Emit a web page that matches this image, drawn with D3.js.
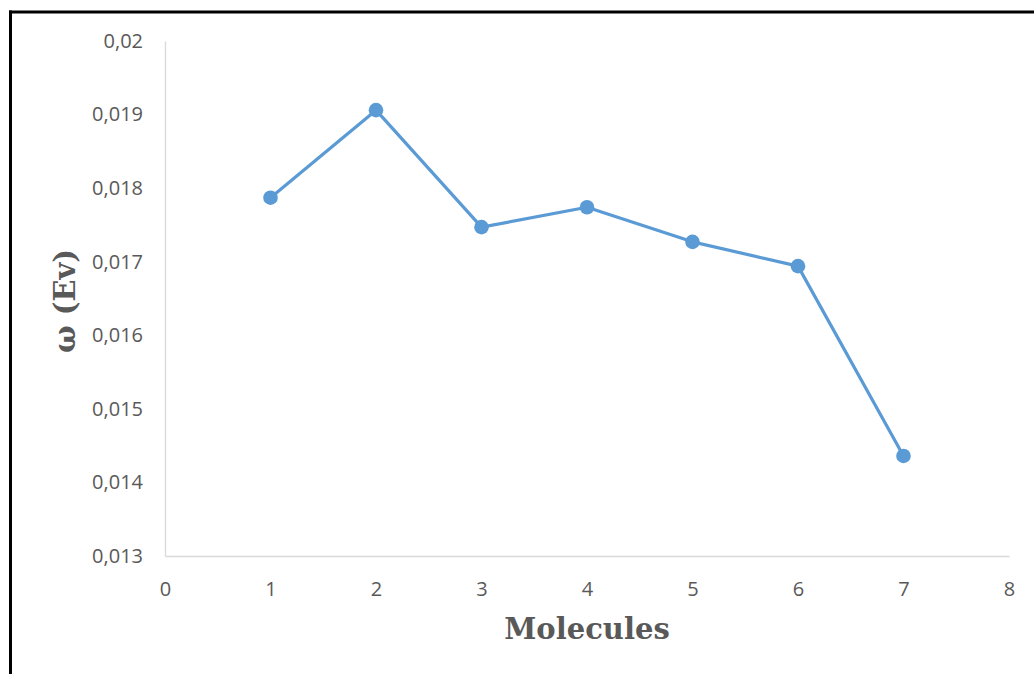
<!DOCTYPE html>
<html><head><meta charset="utf-8">
<script src="https://d3js.org/d3.v7.min.js"></script>
<style>body{margin:0;background:#fff}svg{display:block}</style>
</head><body>
<script>
const molecules = [1, 2, 3, 4, 5, 6, 7];
const omega = [0.01787, 0.01906, 0.01747, 0.01774, 0.01727, 0.01694, 0.01436];
const xTicks = [0, 1, 2, 3, 4, 5, 6, 7, 8];
const yTicks = [0.013, 0.014, 0.015, 0.016, 0.017, 0.018, 0.019, 0.02];
const yTickLabels = ["0,013", "0,014", "0,015", "0,016", "0,017", "0,018", "0,019", "0,02"];

const W = 1034, H = 674;
const svg = d3.select("body").append("svg").attr("width", W).attr("height", H);

// frame
svg.append("line").attr("x1", 9).attr("x2", W).attr("y1", 12).attr("y2", 12).attr("stroke", "#000").attr("stroke-width", 3);
svg.append("line").attr("x1", 10.5).attr("x2", 10.5).attr("y1", 10.5).attr("y2", H).attr("stroke", "#000").attr("stroke-width", 3);

const x = d3.scaleLinear().domain([0, 8]).range([165, 1009]);
const y = d3.scaleLinear().domain([0.013, 0.02]).range([556, 41]);

const gx = svg.append("g").attr("transform", "translate(0,556)")
  .call(d3.axisBottom(x).tickValues(xTicks).tickSize(0).tickPadding(26).tickFormat(d3.format("d")));
const gy = svg.append("g").attr("transform", "translate(165,0)")
  .call(d3.axisLeft(y).tickValues(yTicks).tickSize(0).tickPadding(22).tickFormat((d, i) => yTickLabels[i]));
[gx, gy].forEach(g => {
  g.select(".domain").attr("stroke", "#d9d9d9").attr("stroke-width", 1.3);
  g.selectAll("text").attr("fill", "#595959").attr("font-family", "Open Sans, sans-serif").attr("font-size", 20);
});

const line = d3.line().x((d, i) => x(molecules[i])).y(d => y(d));
svg.append("path").datum(omega).attr("d", line).attr("fill", "none")
  .attr("stroke", "#5B9BD5").attr("stroke-width", 3.2).attr("stroke-linejoin", "round");
svg.selectAll("circle.pt").data(omega).enter().append("circle").attr("class", "pt")
  .attr("cx", (d, i) => x(molecules[i])).attr("cy", d => y(d)).attr("r", 7.3).attr("fill", "#5B9BD5");

svg.append("text").attr("x", 587).attr("y", 639).attr("text-anchor", "middle")
  .attr("font-family", "DejaVu Serif, serif").attr("font-weight", "bold").attr("font-size", 29)
  .attr("fill", "#595959").text("Molecules");
svg.append("text").attr("transform", "translate(75,301) rotate(-90)").attr("text-anchor", "middle")
  .attr("font-family", "DejaVu Serif, serif").attr("font-weight", "bold").attr("font-size", 29)
  .attr("fill", "#595959").text("ω (Ev)");
</script>
</body></html>
